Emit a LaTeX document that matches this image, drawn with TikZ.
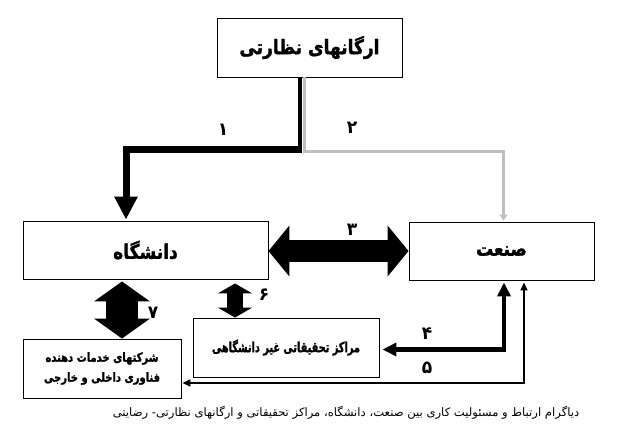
\documentclass[tikz,border=0pt]{standalone}
\usepackage{fontspec}
\usetikzlibrary{arrows.meta}
\TeXXeTstate=1
\newfontfamily\fa[Script=Arabic]{DejaVu Sans}
\newfontfamily\fab[Script=Arabic,FakeBold=1.5,FakeStretch=0.85]{DejaVu Sans Bold}
\newfontfamily\fanum[Script=Arabic,FakeStretch=0.95]{DejaVu Sans Bold}
\newcommand{\fatxt}[1]{\beginR #1\endR}
\tikzset{
  box/.style={draw, line width=0.9pt, inner sep=0pt, align=center},
  bigtext/.style={font=\fab\fontsize{20}{24}\selectfont},
  midtext/.style={font=\fab\fontsize{14}{20}\selectfont},
  smalltext/.style={font=\fab\fontsize{12.5}{20}\selectfont},
  numlabel/.style={font=\fanum\fontsize{18}{18}\selectfont, inner sep=0pt},
  captext/.style={font=\fa\fontsize{11.6}{13}\selectfont, inner sep=0pt},
  grayline/.style={draw=black!25, line width=3pt, -{Triangle[width=8pt,length=6pt]}},
  blackthin/.style={draw, line width=4pt},
  blackone/.style={draw, line width=7pt, line join=miter, -{Triangle[width=22pt,length=23pt]}},
  dblthree/.style={draw, line width=22pt, {Triangle[width=50pt,length=21pt]}-{Triangle[width=50pt,length=21pt]}},
  dblseven/.style={draw, line width=32pt, {Triangle[width=55pt,length=20pt]}-{Triangle[width=55pt,length=20pt]}},
  dblsix/.style={draw, line width=16pt, {Triangle[width=34pt,length=10pt]}-{Triangle[width=34pt,length=10pt]}},
  arrfour/.style={draw, line width=4.5pt, line join=miter, {Triangle[width=13pt,length=14pt]}-{Triangle[width=13pt,length=14pt]}},
  arrfive/.style={draw, line width=1.5pt, line join=miter, {Triangle[width=7pt,length=8pt]}-{Triangle[width=7pt,length=8pt]}},
}
\begin{document}
\begin{tikzpicture}[x=1pt,y=-1pt]
\useasboundingbox (0,0) rectangle (631,445);
% boxes
\node[box, bigtext, minimum width=185pt, minimum height=59pt] (top) at (309.5,47.5) {\raisebox{-3pt}{\fatxt{ارگانهای نظارتی}}};
\node[box, bigtext, minimum width=245pt, minimum height=58pt] (uni) at (145.5,250) {\fatxt{دانشگاه}};
\node[box, bigtext, minimum width=185pt, minimum height=58pt] (ind) at (501.5,251) {\fatxt{صنعت}};
\node[box, smalltext, minimum width=158pt, minimum height=59pt] (co) at (102,368.5) {\scalebox{0.94}[1]{\fatxt{شرکتهای خدمات دهنده}}\\\scalebox{0.94}[1]{\fatxt{فناوری داخلی و خارجی}}};
\node[box, midtext, minimum width=186pt, minimum height=59pt] (rc) at (286,347.5) {\scalebox{0.82}[1]{\fatxt{مراکز تحقیقاتی غیر دانشگاهی}}};
% coordinates
\coordinate (g1) at (304,151.5);
\coordinate (g2) at (503.5,151.5);
\coordinate (b0) at (300,153);
\coordinate (b1) at (302,149.5);
\coordinate (b2) at (126,149.5);
\coordinate (x7) at (122,0);
\coordinate (x6) at (235,0);
\coordinate (p4) at (504,349.5);
\coordinate (p5) at (524,383);
% connectors
\draw[grayline] (top.south -| g1) -- (g1) -- (g2) -- ([yshift=1pt]ind.north -| g2);
\draw[blackthin] (top.south -| b0) -- (b0);
\draw[blackone] (b1) -- (b2) -- ([yshift=1pt]uni.north -| b2);
\draw[dblthree] (uni.east |- ind.west) -- (ind.west);
\draw[dblseven] ([yshift=-2pt]uni.south -| x7) -- (co.north -| x7);
\draw[dblsix] ([yshift=-4pt]uni.south -| x6) -- (rc.north -| x6);
\draw[arrfour] ([xshift=3pt]rc.east |- p4) -- (p4) -- ([yshift=-2pt]ind.south -| p4);
\draw[arrfive] ([xshift=1pt]co.east |- p5) -- (p5) -- ([yshift=-2pt]ind.south -| p5);
% labels
\node[numlabel] (l1) at (223,130) {۱};
\node[numlabel] (l2) at (352,128) {۲};
\node[numlabel] (l3) at (352,230) {۳};
\node[numlabel] (l4) at (427,334) {۴};
\node[numlabel] (l5) at (427,368) {۵};
\node[numlabel] (l6) at (264,295) {۶};
\node[numlabel] (l7) at (153,313) {۷};
\node[captext] (cap) at (346,413) {\fatxt{دیاگرام ارتباط و مسئولیت کاری بین صنعت، دانشگاه، مراکز تحقیقاتی و ارگانهای نظارتی- رضایتی}};
\end{tikzpicture}
\end{document}
